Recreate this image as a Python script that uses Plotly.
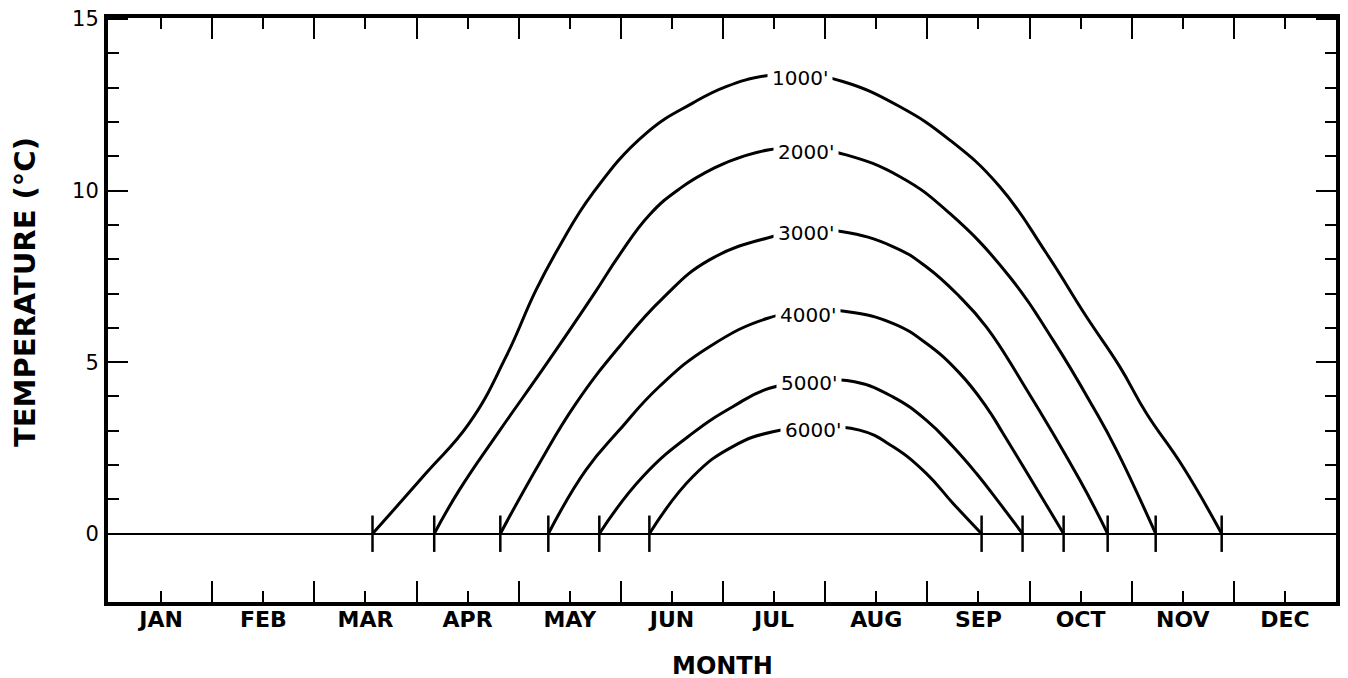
import plotly.graph_objects as go

# ---------------- data ----------------
months = ["JAN", "FEB", "MAR", "APR", "MAY", "JUN", "JUL", "AUG", "SEP", "OCT", "NOV", "DEC"]
month_centers = [i + 0.5 for i in range(12)]
month_bounds = list(range(1, 12))

y_tick_vals = [0, 5, 10, 15]
y_tick_text = ["0", "5", "10", "15"]
y_minor_vals = [1, 2, 3, 4, 6, 7, 8, 9, 11, 12, 13, 14]

elevations = ["1000'", "2000'", "3000'", "4000'", "5000'", "6000'"]

# x in months from Jan 1 (0) to Dec 31 (12); temperature in deg C
x_1000 = [2.569, 3.092, 3.516, 3.876, 4.169, 4.398, 4.724, 5.247, 5.703, 6.030, 6.405, 6.75,
          7.172, 7.728, 8.217, 8.707, 9.164, 9.556, 9.883, 10.144, 10.502, 10.881]
t_1000 = [0.0, 1.76, 3.22, 5.16, 7.10, 8.37, 9.92, 11.67, 12.55, 13.03, 13.34, 13.40,
          13.18, 12.45, 11.48, 10.12, 8.18, 6.33, 4.87, 3.51, 1.95, 0.0]

x_2000 = [3.173, 3.418, 3.810, 4.270, 4.731, 4.985, 5.279, 5.573, 5.916, 6.210, 6.454, 6.807,
          7.206, 7.728, 8.217, 8.805, 9.229, 9.621, 9.853, 10.235]
t_2000 = [0.0, 1.27, 2.99, 4.94, 6.96, 8.12, 9.29, 10.05, 10.66, 11.01, 11.19, 11.25,
          11.04, 10.41, 9.34, 7.49, 5.65, 3.70, 2.43, 0.0]

x_3000 = [3.820, 4.202, 4.561, 4.985, 5.409, 5.867, 6.487, 6.846,
          7.172, 7.662, 7.989, 8.315, 8.577, 8.935, 9.491, 9.765]
t_3000 = [0.0, 2.05, 3.80, 5.45, 6.86, 7.98, 8.66, 8.83,
          8.80, 8.37, 7.78, 6.91, 6.03, 4.38, 1.57, 0.0]

x_4000 = [4.290, 4.659, 4.985, 5.377, 5.867, 6.438, 6.866,
          7.221, 7.662, 7.989, 8.315, 8.577, 8.740, 9.334]
t_4000 = [0.0, 1.86, 3.02, 4.29, 5.45, 6.28, 6.49,
          6.47, 6.13, 5.55, 4.68, 3.70, 2.93, 0.0]

x_5000 = [4.789, 5.214, 5.703, 6.095, 6.454, 6.95, 7.287, 7.662, 7.989, 8.250, 8.479, 8.707, 8.932]
t_5000 = [0.0, 1.66, 2.93, 3.70, 4.24, 4.45, 4.43, 3.99, 3.31, 2.54, 1.76, 0.89, 0.0]

x_6000 = [5.279, 5.703, 6.095, 6.487, 6.905, 7.336, 7.662, 7.989, 8.250, 8.531]
t_6000 = [0.0, 1.66, 2.54, 2.97, 3.08, 3.02, 2.54, 1.76, 0.89, 0.0]

label_x = [6.75, 6.81, 6.81, 6.83, 6.84, 6.88]
label_y = [13.29, 11.13, 8.77, 6.38, 4.39, 3.02]

curves = [(x_1000, t_1000), (x_2000, t_2000), (x_3000, t_3000),
          (x_4000, t_4000), (x_5000, t_5000), (x_6000, t_6000)]

# ---------------- figure ----------------
fig = go.Figure()

for name, (xs, ts) in zip(elevations, curves):
    fig.add_trace(go.Scatter(
        x=xs, y=ts, mode="lines", name=name,
        line=dict(color="black", width=3, shape="spline", smoothing=1.3),
        showlegend=False, hoverinfo="skip"))

# crossing marks where each curve meets 0 degC
cross_x = [c[0][0] for c in curves] + [c[0][-1] for c in curves]
cross_y = [c[1][0] for c in curves] + [c[1][-1] for c in curves]
fig.add_trace(go.Scatter(
    x=cross_x, y=cross_y, mode="markers", showlegend=False, hoverinfo="skip",
    marker=dict(symbol="line-ns", size=26, color="black",
                line=dict(color="black", width=2.5))))

for lab, lx, ly in zip(elevations, label_x, label_y):
    fig.add_annotation(x=lx, y=ly, xref="x", yref="y", text=lab, showarrow=False,
                       bgcolor="white", borderpad=4,
                       font=dict(family="DejaVu Sans", size=20, color="black"))

# axis titles
fig.add_annotation(xref="paper", yref="paper", x=0.5, y=0, yanchor="top",
                   yshift=-48, text="MONTH", showarrow=False,
                   font=dict(family="DejaVu Sans", size=24, color="black", weight="bold"))
fig.add_annotation(xref="paper", yref="paper", x=0, y=0.5, xanchor="center",
                   xshift=-83, yshift=18, textangle=-90, text="TEMPERATURE (°C)",
                   showarrow=False,
                   font=dict(family="DejaVu Sans", size=29, color="black", weight="bold"))

fig.update_xaxes(
    range=[-0.02, 12.0], showgrid=False, zeroline=False, automargin=False,
    showline=True, linecolor="black", linewidth=4, mirror="ticks",
    tickmode="array", tickvals=month_centers, ticktext=months,
    ticks="inside", ticklen=11, tickwidth=2, tickcolor="black",
    ticklabelstandoff=-5, ticklabeloverflow="allow",
    tickfont=dict(family="DejaVu Sans", size=22, color="black", weight="bold"),
    minor=dict(tickmode="array", tickvals=month_bounds, ticks="inside",
               ticklen=21, tickwidth=2, tickcolor="black", showgrid=False),
)
fig.update_yaxes(
    range=[-1.99, 15.03], showgrid=False, automargin=False,
    zeroline=True, zerolinecolor="black", zerolinewidth=1.6,
    showline=True, linecolor="black", linewidth=4, mirror="ticks",
    tickmode="array", tickvals=y_tick_vals, ticktext=y_tick_text,
    ticks="inside", ticklen=20, tickwidth=2, tickcolor="black",
    ticklabelstandoff=1, ticklabeloverflow="allow",
    tickfont=dict(family="DejaVu Sans", size=21, color="black"),
    minor=dict(tickmode="array", tickvals=y_minor_vals, ticks="inside",
               ticklen=11, tickwidth=2, tickcolor="black", showgrid=False),
)

fig.update_layout(
    width=1348, height=678,
    margin=dict(l=100, r=20, t=10, b=84),
    paper_bgcolor="white", plot_bgcolor="white",
    showlegend=False,
)

fig.write_html("out.html")
